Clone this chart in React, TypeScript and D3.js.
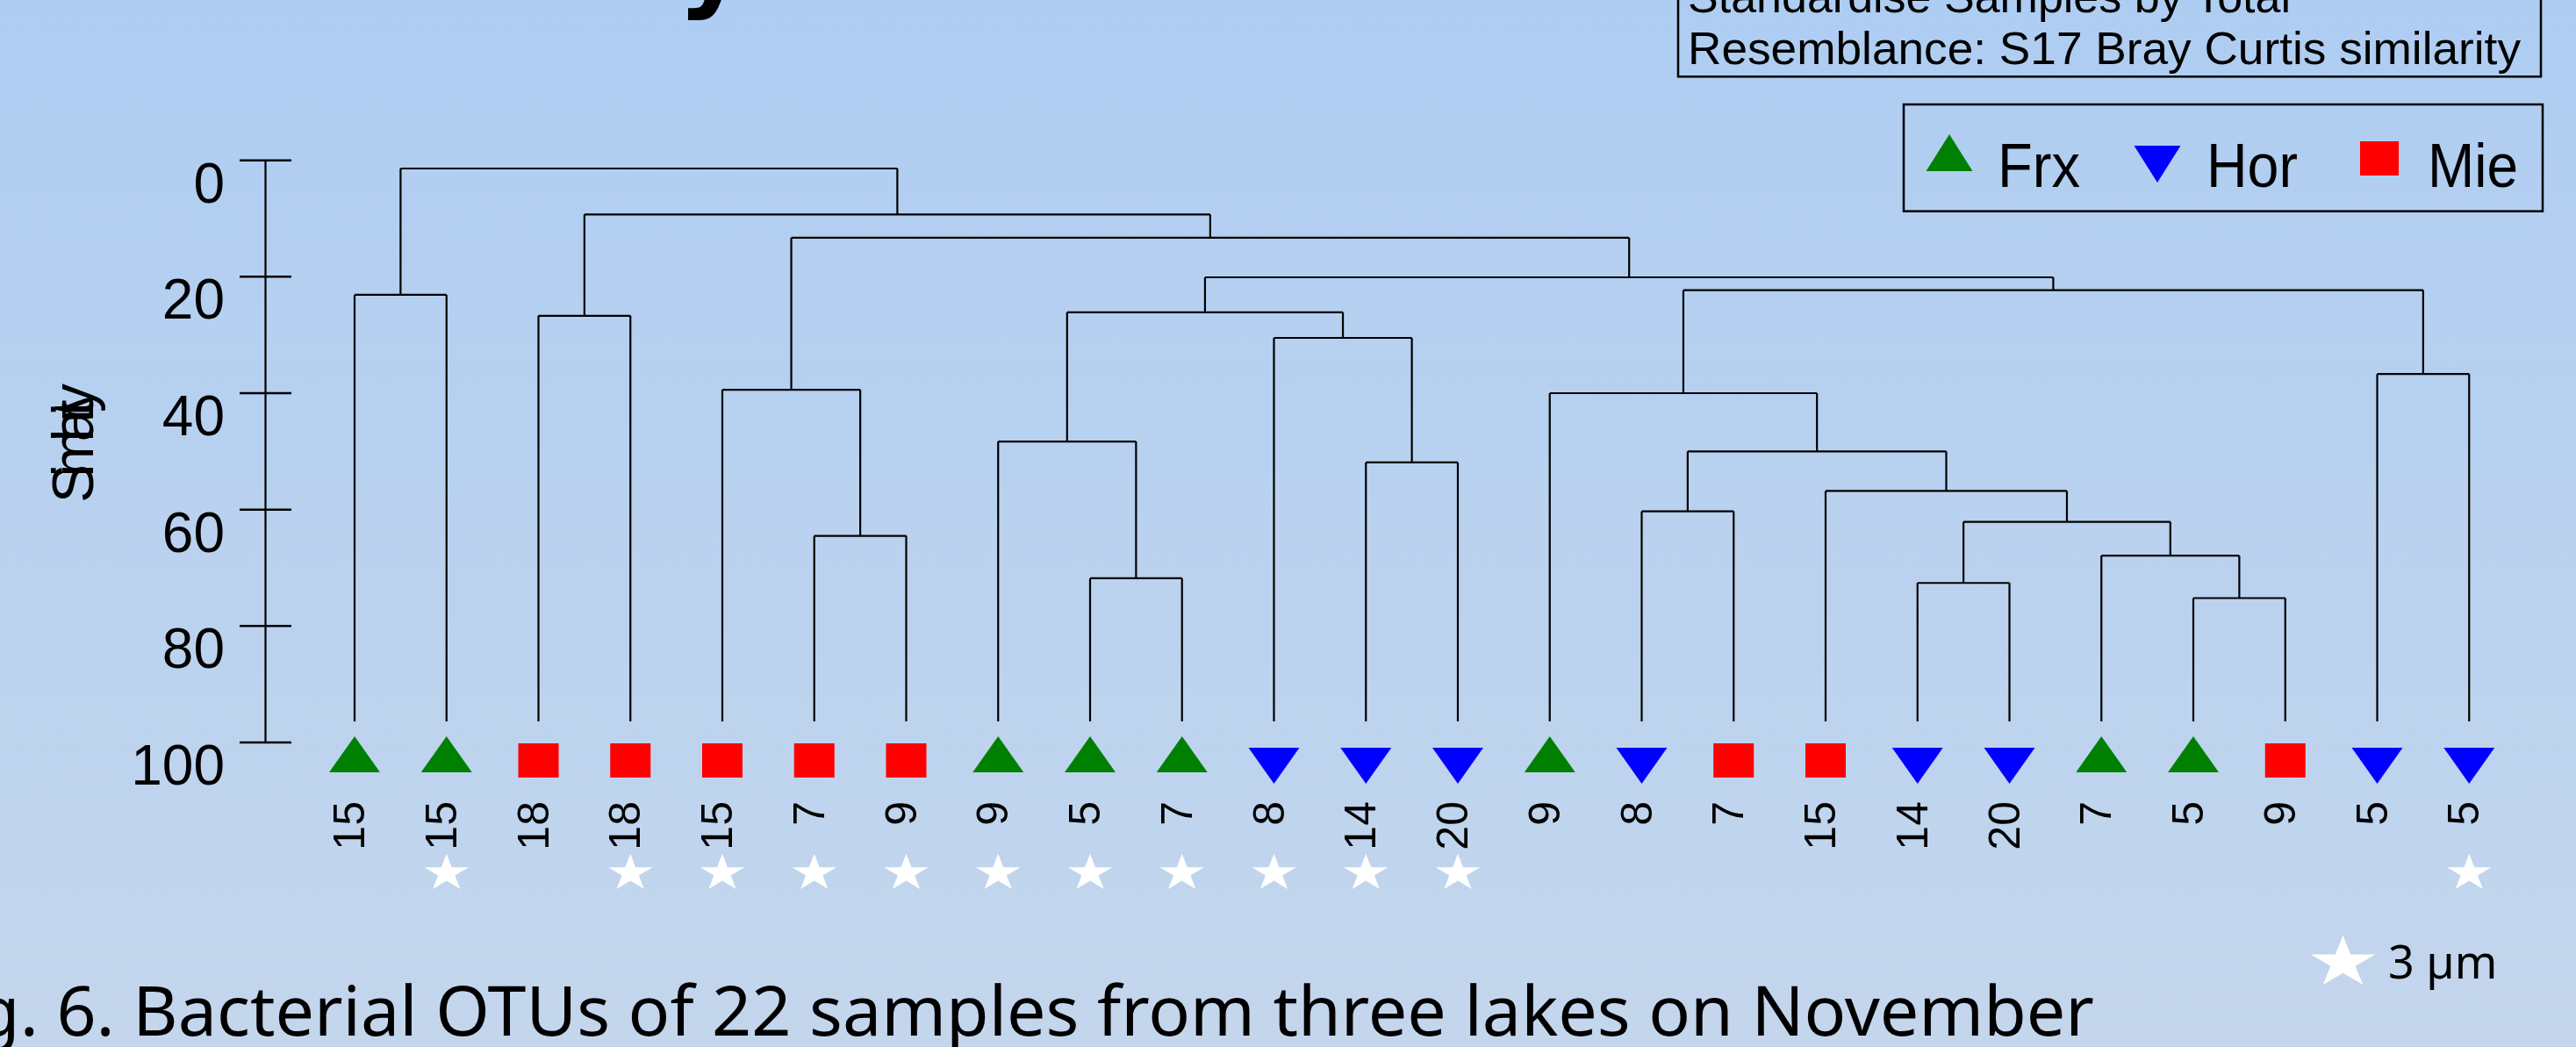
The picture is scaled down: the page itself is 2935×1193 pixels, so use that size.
import React, { useEffect } from "react"
import * as d3 from "d3"

// leaves, left to right
const leafGroups = ["Frx","Frx","Mie","Mie","Mie","Mie","Mie","Frx","Frx","Frx","Hor","Hor","Hor","Frx","Hor","Mie","Mie","Hor","Hor","Frx","Frx","Mie","Hor","Hor"]
const leafLabels = ["15","15","18","18","15","7","9","9","5","7","8","14","20","9","8","7","15","14","20","7","5","9","5","5"]
const leafStar = [false,true,false,true,true,true,true,true,true,true,true,true,true,false,false,false,false,false,false,false,false,false,false,true]

// merges (like hclust): id, left child, right child, similarity
const mergeIds = ["A","B","C56","C","D89","D","E1112","E","F","G1415","G1718","G2021","G19","G17","G16","G14","G","H","I","J","K","L","M"]
const mergeLeft = ["0","2","5","4","8","7","11","10","D","14","17","20","19","G1718","16","G1415","13","22","G","F","C","B","A"]
const mergeRight = ["1","3","6","C56","9","D89","12","E1112","E","15","18","21","G2021","G19","G17","G16","G14","23","H","I","J","K","L"]
const mergeSim = [23.1,26.7,64.5,39.4,71.8,48.3,51.9,30.5,26.1,60.3,72.6,75.2,67.9,62.1,56.8,50.0,40.0,36.7,22.3,20.1,13.3,9.3,1.4]

const legendGroups = ["Frx","Hor","Mie"]
const groupColor = { Frx: "#008000", Hor: "#0000ff", Mie: "#ff0000" }
const boxLines = ["Standardise Samples by Total", "Resemblance: S17 Bray Curtis similarity"]

const W = 2935
const H = 1193
const FONT = "'Liberation Sans', Arial, sans-serif"

function markerPath(group, cx, top, triW, triH, sqW, sqH) {
    const p = d3.path()
    if (group === "Frx") {
        p.moveTo(cx - triW / 2, top + triH)
        p.lineTo(cx, top)
        p.lineTo(cx + triW / 2, top + triH)
        p.closePath()
    } else if (group === "Hor") {
        p.moveTo(cx - triW / 2, top + 13)
        p.lineTo(cx + triW / 2, top + 13)
        p.lineTo(cx, top + 13 + triH)
        p.closePath()
    } else {
        p.rect(cx - sqW / 2, top + 8, sqW, sqH)
    }
    return p.toString()
}

export default function App() {
    useEffect(() => {
        document.body.style.margin = "0"
    }, [])

    const xScale = d3.scalePoint().domain(leafLabels.map((d, i) => String(i))).range([404, 2813.25])
    const yScale = d3.scaleLinear().domain([0, 100]).range([182.7, 846])
    const leafBottom = 822

    // build the tree
    const nodes = new Map()
    leafLabels.forEach((lab, i) => nodes.set(String(i), { name: String(i), index: i }))
    mergeIds.forEach((id, i) => {
        nodes.set(id, { name: id, sim: mergeSim[i], children: [nodes.get(mergeLeft[i]), nodes.get(mergeRight[i])] })
    })
    const root = d3.hierarchy(nodes.get("M"))
    root.eachAfter(n => {
        n.x = n.children ? d3.mean(n.children, c => c.x) : xScale(String(n.data.index))
        n.y = n.children ? yScale(n.data.sim) : leafBottom
    })

    const segs = []
    root.each(n => {
        if (!n.children) return
        segs.push([n.children[0].x, n.y, n.children[1].x, n.y])
        n.children.forEach(c => segs.push([c.x, n.y, c.x, c.y]))
    })

    const star = d3.symbol(d3.symbolStar, 550)()
    const bigStar = d3.symbol(d3.symbolStar, 1080)()
    const ticks = yScale.ticks(5)
    const legendX = [2221, 2458, 2711]
    const legendTextX = [2276, 2514, 2766]
    const legendTextLen = [94, 104, 103]

    return (
        <svg width={W} height={H} style={{ display: "block" }}>
            <defs>
                <linearGradient id="bg" x1="0" y1="0" x2="0" y2="1">
                    <stop offset="0%" stopColor="#aecdf2" />
                    <stop offset="100%" stopColor="#c4d6ec" />
                </linearGradient>
            </defs>
            <rect x={0} y={0} width={W} height={H} fill="url(#bg)" />

            {/* slide title, only the descender shows */}
            <text x={772} y={-3} fontFamily="'DejaVu Sans', sans-serif" fontWeight="bold" fontSize={120}>y</text>

            {/* info box */}
            <rect x={1912} y={-20} width={983} height={107.3} fill="none" stroke="#000" strokeWidth={2.5} />
            <text x={1923} y={14} fontFamily={FONT} fontSize={52}>{boxLines[0]}</text>
            <text x={1923} y={73} fontFamily={FONT} fontSize={52} textLength={949} lengthAdjust="spacingAndGlyphs">{boxLines[1]}</text>

            {/* legend */}
            <rect x={2169} y={119} width={728} height={121.7} fill="none" stroke="#000" strokeWidth={2.5} />
            {legendGroups.map((g, i) => (
                <g key={g}>
                    <path d={markerPath(g, legendX[i], 153, 53, 42, 44, 39)} fill={groupColor[g]} />
                    <text x={legendTextX[i]} y={213} fontFamily={FONT} fontSize={70}
                        textLength={legendTextLen[i]} lengthAdjust="spacingAndGlyphs">{g}</text>
                </g>
            ))}

            {/* y axis */}
            <line x1={302.5} x2={302.5} y1={yScale(0)} y2={yScale(100)} stroke="#000" strokeWidth={2.2} />
            {ticks.map(t => (
                <g key={t}>
                    <line x1={273} x2={332} y1={yScale(t)} y2={yScale(t)} stroke="#000" strokeWidth={2.5} />
                    <text x={256} y={yScale(t) + 48} textAnchor="end" fontFamily={FONT} fontSize={64}>{t}</text>
                </g>
            ))}
            <text transform="translate(106,505) rotate(-90)" textAnchor="middle" fontFamily={FONT} fontSize={66}
                textLength={136} lengthAdjust="spacing">Similarity</text>

            {/* dendrogram */}
            {segs.map((s, i) => (
                <line key={i} x1={s[0]} y1={s[1]} x2={s[2]} y2={s[3]} stroke="#000" strokeWidth={2.2} />
            ))}

            {/* leaf markers, labels, stars */}
            {leafLabels.map((lab, i) => {
                const cx = xScale(String(i))
                return (
                    <g key={i}>
                        <path d={markerPath(leafGroups[i], cx, 839, 58, 41, 46, 39)} fill={groupColor[leafGroups[i]]} />
                        <text transform={`translate(${cx},913) rotate(-90)`} dy="0.22em" textAnchor="end"
                            fontFamily={FONT} fontSize={50}>{lab}</text>
                        {leafStar[i] && (
                            <path d={star} transform={`translate(${cx},995) scale(1.2,1)`} fill="#fff" />
                        )}
                    </g>
                )
            })}

            {/* size key */}
            <path d={bigStar} transform="translate(2669.5,1097) scale(1.25,1)" fill="#fff" />
            <text x={2721} y={1115} fontFamily="'Noto Sans', sans-serif" fontSize={52}>3 µm</text>

            {/* caption */}
            <text x={2386} y={1180} textAnchor="end" fontFamily="'Noto Sans', sans-serif" fontSize={79}>
                Fig. 6. Bacterial OTUs of 22 samples from three lakes on November
            </text>
        </svg>
    )
}
